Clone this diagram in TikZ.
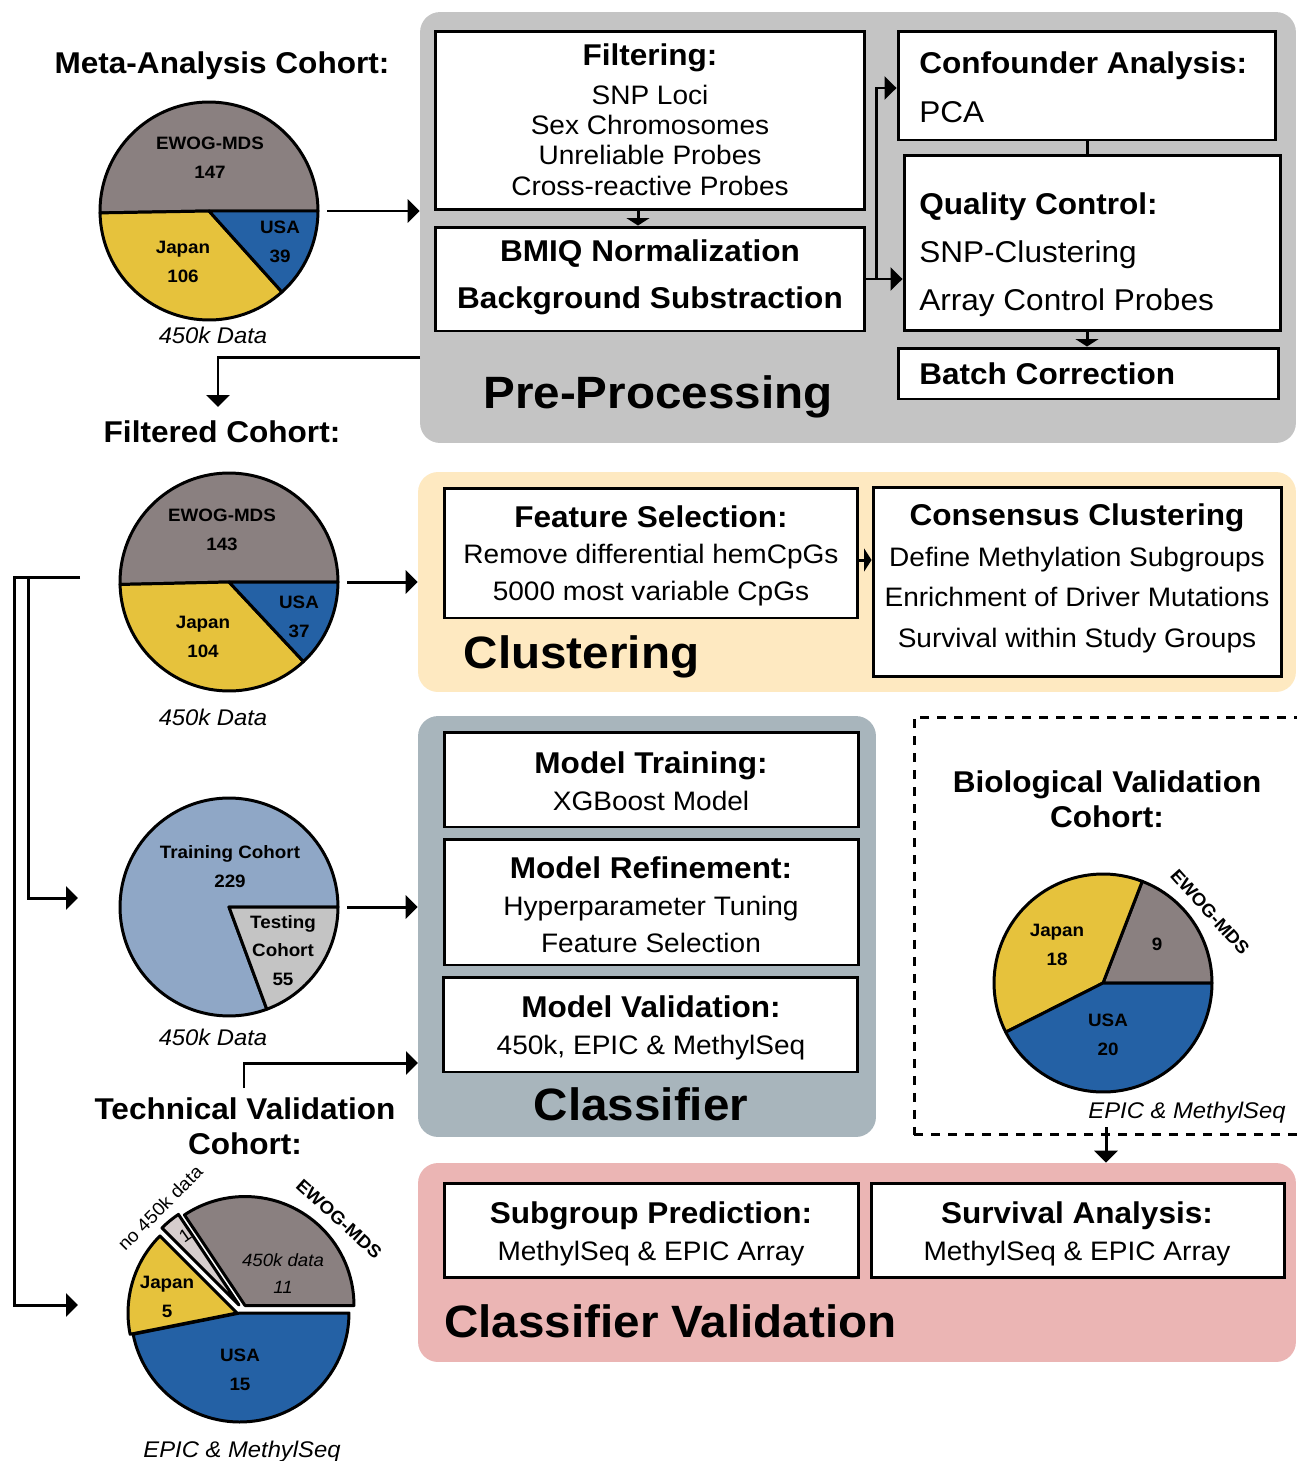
\documentclass[tikz,border=0pt]{standalone}
\usepackage{fontspec}
\setmainfont{Liberation Sans}[FakeStretch=1.05]
\usetikzlibrary{positioning,arrows.meta}

\definecolor{ewog}{HTML}{8A8080}
\definecolor{japan}{HTML}{E6C23C}
\definecolor{usa}{HTML}{2461A5}
\definecolor{training}{HTML}{8FA7C6}
\definecolor{testing}{HTML}{C4C4C4}
\definecolor{nodata}{HTML}{D6CDCD}
\definecolor{prebg}{HTML}{C4C4C4}
\definecolor{clustbg}{HTML}{FEE9C1}
\definecolor{classbg}{HTML}{A8B5BC}
\definecolor{cvalbg}{HTML}{EBB5B4}

\begin{document}
\begin{tikzpicture}[x=0.02cm, y=-0.02cm,
    panel/.style={rounded corners=0.4cm, inner sep=0pt},
    box/.style={draw, line width=1.7pt, fill=white, inner sep=0pt},
    headtxt/.style={anchor=base, align=center, font=\bfseries\fontsize{17.1}{19.4}\selectfont},
    bodytxt/.style={anchor=base, align=center, font=\fontsize{15.2}{17.1}\selectfont},
    lefttxt/.style={anchor=base west, align=left, inner sep=0pt, font=\fontsize{17.1}{27.3}\selectfont},
    bigtxt/.style={anchor=base, font=\bfseries\fontsize{25.8}{28}\selectfont},
    pielab/.style={anchor=base, align=center, font=\bfseries\fontsize{10.2}{16}\selectfont},
    datalab/.style={anchor=base, font=\itshape\fontsize{12.9}{14}\selectfont},
    piebase/.style={circle, minimum size=4.36cm, inner sep=0pt},
    slice/.style={draw=black, line width=1.7pt, line join=round},
    link/.style={line width=1.7pt},
    arr/.style={line width=1.7pt, -{Triangle[length=0.24cm, width=0.46cm]}},
    sarr/.style={line width=1.7pt, -{Triangle[length=0.15cm, width=0.46cm]}}]

  \path[fill=white, use as bounding box] (0,0) rectangle (1296,1461);

  % panels
  \node[panel, fill=prebg, minimum width=17.52cm, minimum height=8.62cm] (pre) at (858,227.5) {};
  \node[panel, fill=clustbg, minimum width=17.56cm, minimum height=4.4cm] (clust) at (857,582) {};
  \node[panel, fill=classbg, minimum width=9.16cm, minimum height=8.42cm] (classif) at (647,926.5) {};
  \node[panel, fill=cvalbg, minimum width=17.56cm, minimum height=3.98cm] (cval) at (857,1262.5) {};
  \node[draw, line width=1.7pt, dash pattern=on 0.18cm off 0.16cm, inner sep=0pt, minimum width=8.04cm, minimum height=8.36cm] (bioframe) at (1115,926) {};

  % pre-processing
  \node[box, minimum width=8.6cm, minimum height=3.58cm] (filt) at (650,120.5) {};
  \node[headtxt] (filt-h) at (650,65) {Filtering:};
  \node[bodytxt] (filt-b) at (650,195) {SNP Loci\\Sex Chromosomes\\Unreliable Probes\\Cross-reactive Probes};
  \node[box, minimum width=8.6cm, minimum height=2.08cm] (bmiq) at (650,279) {};
  \node[headtxt, font=\bfseries\fontsize{17.1}{26.7}\selectfont] (bmiq-h) at (650,308) {BMIQ Normalization\\Background Substraction};
  \node[box, minimum width=7.56cm, minimum height=2.18cm] (conf) at (1087,85.5) {};
  \node[lefttxt, font=\bfseries\fontsize{17.1}{19}\selectfont] (conf-h) at (919,73) {Confounder Analysis:};
  \node[lefttxt] (conf-b) at (919,122) {PCA};
  \node[box, minimum width=7.54cm, minimum height=3.52cm] (qc) at (1092.5,243) {};
  \node[lefttxt, font=\bfseries\fontsize{17.1}{19}\selectfont] (qc-h) at (919,214) {Quality Control:};
  \node[lefttxt] (qc-b) at (919,310) {SNP-Clustering\\Array Control Probes};
  \node[box, minimum width=7.62cm, minimum height=1.02cm] (batch) at (1088.5,373.5) {};
  \node[lefttxt, font=\bfseries\fontsize{17.1}{19}\selectfont] (batch-h) at (919,384) {Batch Correction};
  \node[bigtxt] (pre-t) at (658,408) {Pre-Processing};

  \draw[sarr] ([xshift=-0.24cm]filt.south) -- ([xshift=-0.24cm]bmiq.north);
  \draw[arr] (bmiq.east) -- (bmiq.east -| qc.west);
  \draw[arr] ([xshift=0.2cm]bmiq.east) |- ([yshift=-0.05cm]conf.west);
  \draw[link] (conf.south) -- (conf.south |- qc.north);
  \draw[sarr] (conf.south |- qc.south) -- (conf.south |- batch.north);

  % clustering
  \node[box, minimum width=8.28cm, minimum height=2.6cm] (featsel) at (651,553) {};
  \node[headtxt] (featsel-h) at (651,527) {Feature Selection:};
  \node[bodytxt, font=\fontsize{15.2}{20.5}\selectfont] (featsel-b) at (651,600) {Remove differential hemCpGs\\5000 most variable CpGs};
  \node[box, minimum width=8.18cm, minimum height=3.8cm] (consensus) at (1077.5,582) {};
  \node[headtxt] (consensus-h) at (1077,525) {Consensus Clustering};
  \node[bodytxt, font=\fontsize{15.2}{22.8}\selectfont] (consensus-b) at (1077,647) {Define Methylation Subgroups\\Enrichment of Driver Mutations\\Survival within Study Groups};
  \node[bigtxt] (clust-t) at (581.5,668) {Clustering};
  \draw[sarr] ([yshift=-0.14cm]featsel.east) -- ([yshift=-0.14cm]featsel.east -| consensus.west);

  % classifier
  \node[box, minimum width=8.3cm, minimum height=1.9cm] (train) at (651.5,779.5) {};
  \node[headtxt] (train-h) at (651,773) {Model Training:};
  \node[bodytxt] (train-b) at (651,810) {XGBoost Model};
  \node[box, minimum width=8.3cm, minimum height=2.52cm] (refine) at (651.5,902) {};
  \node[headtxt] (refine-h) at (651,878) {Model Refinement:};
  \node[bodytxt, font=\fontsize{15.2}{21}\selectfont] (refine-b) at (651,952) {Hyperparameter Tuning\\Feature Selection};
  \node[box, minimum width=8.3cm, minimum height=1.9cm] (valid) at (650.5,1024.5) {};
  \node[headtxt] (valid-h) at (651,1017) {Model Validation:};
  \node[bodytxt] (valid-b) at (651,1054) {450k, EPIC \& MethylSeq};
  \node[bigtxt] (classif-t) at (641,1120) {Classifier};

  % classifier validation
  \node[box, minimum width=8.3cm, minimum height=1.88cm] (subgroup) at (651.5,1230) {};
  \node[headtxt] (subgroup-h) at (651,1223) {Subgroup Prediction:};
  \node[bodytxt] (subgroup-b) at (651,1260) {MethylSeq \& EPIC Array};
  \node[box, minimum width=8.28cm, minimum height=1.88cm] (survival) at (1078,1230) {};
  \node[headtxt] (survival-h) at (1077,1223) {Survival Analysis:};
  \node[bodytxt] (survival-b) at (1077,1260) {MethylSeq \& EPIC Array};
  \node[bigtxt] (cval-t) at (670.5,1337) {Classifier Validation};

  % meta-analysis cohort
  \node[headtxt] (meta) at (222,73) {Meta-Analysis Cohort:};
  \node[piebase] (pie1) at (209,211) {};
  \filldraw[slice, fill=ewog] (pie1.center) -- ++(0:2.18cm) arc[start angle=0, end angle=181, radius=2.18cm] -- cycle;
  \filldraw[slice, fill=japan] (pie1.center) -- ++(181:2.18cm) arc[start angle=181, end angle=312, radius=2.18cm] -- cycle;
  \filldraw[slice, fill=usa] (pie1.center) -- ++(312:2.18cm) arc[start angle=312, end angle=360, radius=2.18cm] -- cycle;
  \node[pielab] (p1-e) at (210,178) {EWOG-MDS\\147};
  \node[pielab] (p1-u) at (280,262) {USA\\39};
  \node[pielab] (p1-j) at (183,282) {Japan\\106};
  \node[datalab] (p1-d) at (213,343) {450k Data};
  \draw[arr] ([xshift=0.18cm]pie1.east) -- (pie1.east -| pre.west);

  \coordinate (ret) at (420,357);
  \coordinate (retend) at (218,407);
  \draw[arr] (ret) -| (retend);

  % filtered cohort
  \node[headtxt] (filtc) at (222,442) {Filtered Cohort:};
  \node[piebase] (pie2) at (229,582) {};
  \filldraw[slice, fill=ewog] (pie2.center) -- ++(0:2.18cm) arc[start angle=0, end angle=181.3, radius=2.18cm] -- cycle;
  \filldraw[slice, fill=japan] (pie2.center) -- ++(181.3:2.18cm) arc[start angle=181.3, end angle=313.1, radius=2.18cm] -- cycle;
  \filldraw[slice, fill=usa] (pie2.center) -- ++(313.1:2.18cm) arc[start angle=313.1, end angle=360, radius=2.18cm] -- cycle;
  \node[pielab] (p2-e) at (222,550) {EWOG-MDS\\143};
  \node[pielab] (p2-u) at (299,637) {USA\\37};
  \node[pielab] (p2-j) at (203,657) {Japan\\104};
  \node[datalab] (p2-d) at (213,725) {450k Data};
  \draw[arr] ([xshift=0.18cm]pie2.east) -- (pie2.east -| clust.west);

  % training / testing
  \node[piebase] (pie3) at (229,907) {};
  \filldraw[slice, fill=training] (pie3.center) -- ++(0:2.18cm) arc[start angle=0, end angle=290.3, radius=2.18cm] -- cycle;
  \filldraw[slice, fill=testing] (pie3.center) -- ++(290.3:2.18cm) arc[start angle=290.3, end angle=360, radius=2.18cm] -- cycle;
  \node[pielab] (p3-tr) at (230,887) {Training Cohort\\229};
  \node[pielab] (p3-te) at (283,985) {Testing\\Cohort\\55};
  \node[datalab] (p3-d) at (213,1045) {450k Data};
  \draw[arr] ([xshift=0.18cm]pie3.east) -- (pie3.east -| classif.west);

  \coordinate (brk) at (80,577);
  \coordinate (tr) at (78,898);
  \coordinate (tv) at (78,1305);
  \draw[arr] (brk) -| ([xshift=-1.28cm]tv) -- (tv);
  \draw[arr] ([xshift=-1.04cm]brk) |- (tr);

  % technical validation cohort
  \node[headtxt] (techc) at (245,1154) {Technical Validation\\Cohort:};
  \coordinate (tvstart) at (244,1088);
  \coordinate (tvtip) at (418,1063);
  \draw[arr] (tvstart) |- (tvtip);
  \node[piebase] (pie4) at (240,1313) {};
  \filldraw[slice, fill=japan] ([xshift=-0.06cm]pie4.center) -- ++(135:2.18cm) arc[start angle=135, end angle=191.25, radius=2.18cm] -- cycle;
  \filldraw[slice, fill=usa] (pie4.center) -- ++(191.25:2.18cm) arc[start angle=191.25, end angle=360, radius=2.18cm] -- cycle;
  \filldraw[slice, fill=nodata] ([shift={(-0.02cm,0.16cm)}]pie4.center) -- ++(123.75:2.18cm) arc[start angle=123.75, end angle=135, radius=2.18cm] -- cycle;
  \filldraw[slice, fill=ewog] ([shift={(0.1cm,0.15cm)}]pie4.center) -- ++(0:2.18cm) arc[start angle=0, end angle=123.75, radius=2.18cm] -- cycle;
  \node[pielab] (p4-j) at (167,1317) {Japan\\5};
  \node[pielab] (p4-u) at (240,1390) {USA\\15};
  \node[pielab, font=\itshape\fontsize{10.1}{15}\selectfont] (p4-e) at (283,1293) {450k data\\11};
  \node[anchor=center, rotate=35, font=\fontsize{10.1}{12}\selectfont] (p4-n) at (185,1236) {1};
  \node[anchor=center, rotate=45, font=\fontsize{10.4}{12}\selectfont] (p4-nl) at (160,1208) {no 450k data};
  \node[pielab, anchor=center, rotate=-42] (p4-el) at (339,1219) {EWOG-MDS};
  \node[datalab] (p4-d) at (242,1457) {EPIC \& MethylSeq};

  % biological validation cohort
  \node[headtxt] (bioc) at (1107,827) {Biological Validation\\Cohort:};
  \node[piebase] (pie5) at (1103,983) {};
  \filldraw[slice, fill=ewog] (pie5.center) -- ++(0:2.18cm) arc[start angle=0, end angle=68.9, radius=2.18cm] -- cycle;
  \filldraw[slice, fill=japan] (pie5.center) -- ++(68.9:2.18cm) arc[start angle=68.9, end angle=206.8, radius=2.18cm] -- cycle;
  \filldraw[slice, fill=usa] (pie5.center) -- ++(206.8:2.18cm) arc[start angle=206.8, end angle=360, radius=2.18cm] -- cycle;
  \node[pielab] (p5-j) at (1057,965) {Japan\\18};
  \node[pielab] (p5-e) at (1157,950) {9};
  \node[pielab] (p5-u) at (1108,1055) {USA\\20};
  \node[pielab, anchor=center, rotate=-48] (p5-el) at (1210,912) {EWOG-MDS};
  \node[datalab] (p5-d) at (1187,1118) {EPIC \& MethylSeq};
  \coordinate (biobot) at (1106,1127);
  \draw[arr] (biobot) -- (biobot |- cval.north);
\end{tikzpicture}
\end{document}
